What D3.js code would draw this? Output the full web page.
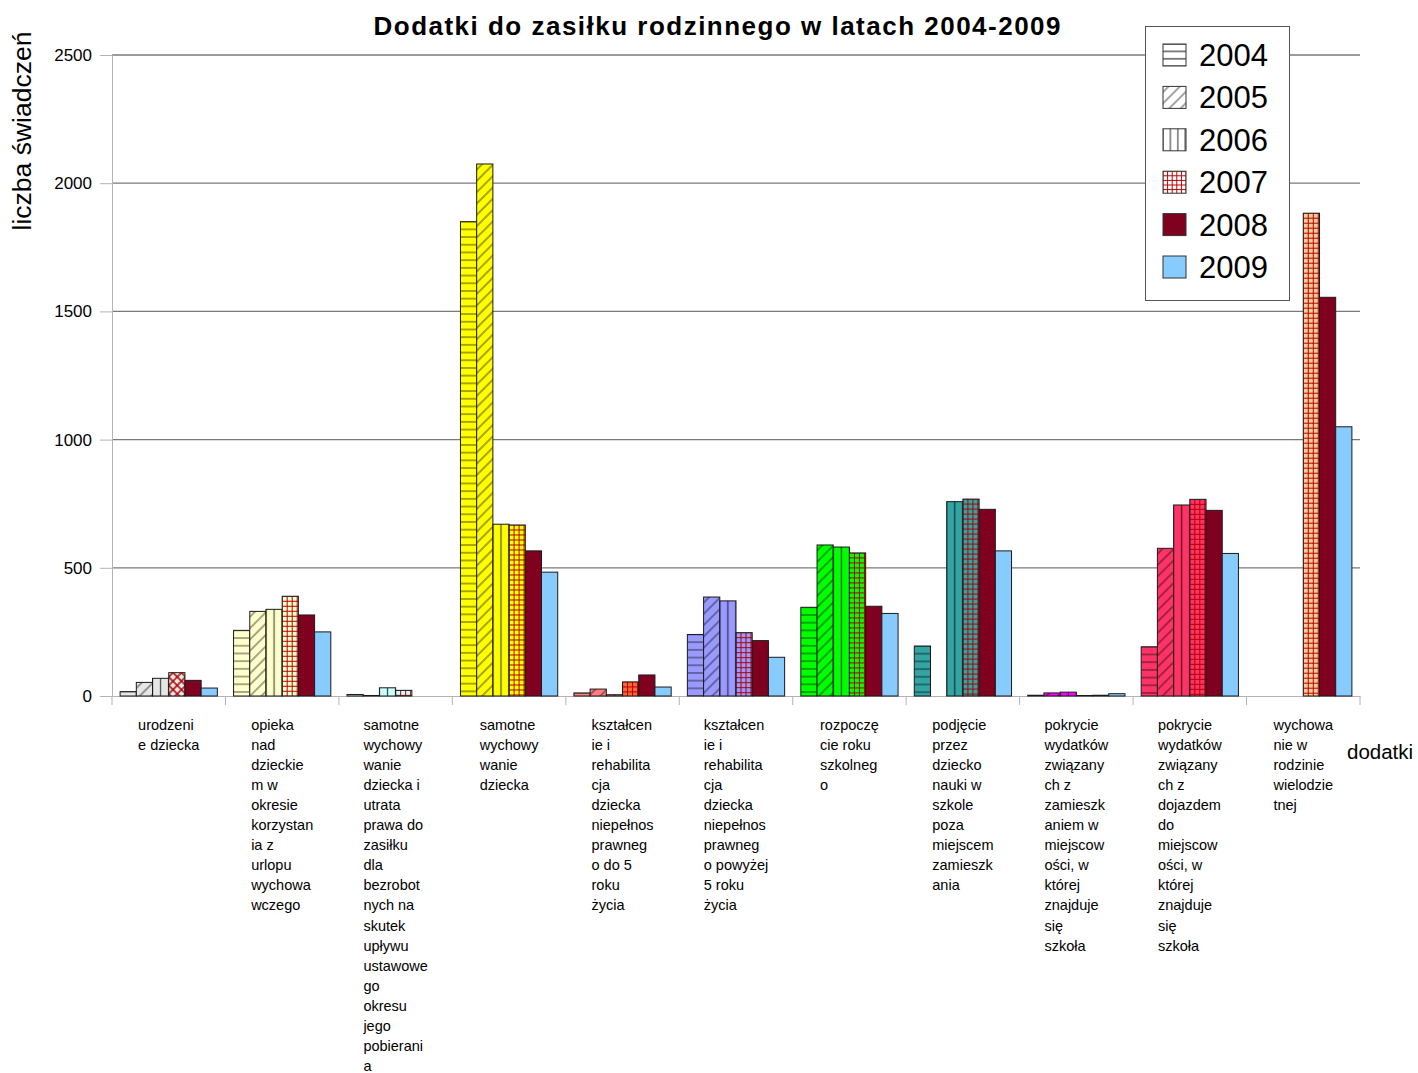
<!DOCTYPE html>
<html>
<head>
<meta charset="utf-8">
<script src="https://cdn.jsdelivr.net/npm/d3@7"></script>
<style>
  body { margin: 0; background: #fff; }
  text { font-family: "Liberation Sans", Arial, sans-serif; }
</style>
</head>
<body>
<script>
// categories, wrapped the same way as in the original chart
var categories = [
  ["urodzeni", "e dziecka"],
  ["opieka", "nad", "dzieckie", "m w", "okresie", "korzystan", "ia z", "urlopu", "wychowa", "wczego"],
  ["samotne", "wychowy", "wanie", "dziecka i", "utrata", "prawa do", "zasiłku", "dla", "bezrobot", "nych na", "skutek", "upływu", "ustawowe", "go", "okresu", "jego", "pobierani", "a"],
  ["samotne", "wychowy", "wanie", "dziecka"],
  ["kształcen", "ie i", "rehabilita", "cja", "dziecka", "niepełnos", "prawneg", "o do 5", "roku", "życia"],
  ["kształcen", "ie i", "rehabilita", "cja", "dziecka", "niepełnos", "prawneg", "o powyżej", "5 roku", "życia"],
  ["rozpoczę", "cie roku", "szkolneg", "o"],
  ["podjęcie", "przez", "dziecko", "nauki w", "szkole", "poza", "miejscem", "zamieszk", "ania"],
  ["pokrycie", "wydatków", "związany", "ch z", "zamieszk", "aniem w", "miejscow", "ości, w", "której", "znajduje", "się", "szkoła"],
  ["pokrycie", "wydatków", "związany", "ch z", "dojazdem", "do", "miejscow", "ości, w", "której", "znajduje", "się", "szkoła"],
  ["wychowa", "nie w", "rodzinie", "wielodzie", "tnej"]
];

var years = ["2004", "2005", "2006", "2007", "2008", "2009"];

var v2004 = [17, 256, 6, 1850, 12, 240, 346, 195, 3, 192, 0];
var v2005 = [53, 330, 2, 2075, 27, 386, 589, 0, 12, 576, 0];
var v2006 = [69, 338, 32, 670, 5, 371, 581, 758, 15, 745, 0];
var v2007 = [91, 389, 22, 667, 55, 247, 558, 768, 2, 767, 1883];
var v2008 = [61, 316, 0, 566, 82, 216, 350, 728, 3, 724, 1555];
var v2009 = [31, 250, 0, 483, 35, 151, 322, 566, 9, 556, 1050];
var series = [v2004, v2005, v2006, v2007, v2008, v2009];

var yTicks = [0, 500, 1000, 1500, 2000, 2500];

// colours
var catColors = ["#e6e6e6", "#ffffcc", "#ccffff", "#ffff00", "#ff8080", "#9999ff",
                 "#00ff00", "#33a3a3", "#ff00ff", "#ff3366", "#ffcc99"];
var color2007 = { 4: "#ff6633" };
var color2008 = "#800020";
var color2009 = "#88ccff";
var patternKinds = ["h", "d", "v", "g"];

var svgWidth = 1418, svgHeight = 1073;
var plot = { left: 112, right: 1360, top: 55, bottom: 696 };

var svg = d3.select("body").append("svg")
  .attr("width", svgWidth)
  .attr("height", svgHeight);

var defs = svg.append("defs");

var x0 = d3.scaleBand()
  .domain(d3.range(categories.length))
  .range([plot.left, plot.right])
  .padding(0);

var x1 = d3.scaleBand()
  .domain(years)
  .range([0, x0.bandwidth()])
  .paddingInner(0)
  .paddingOuter(0.5);

var y = d3.scaleLinear()
  .domain([0, 2500])
  .range([plot.bottom, plot.top]);

var bw = x1.bandwidth();

// hatch pattern, lines sit in the middle of each tile
function makePattern(id, kind, bg, px, py, tile, lineColor) {
  var p = defs.append("pattern")
    .attr("id", id)
    .attr("patternUnits", "userSpaceOnUse");
  var stroke = lineColor || "#000";
  var op = lineColor ? 1 : 0.7;
  if (kind == "h") {
    p.attr("x", px).attr("y", py - tile / 2).attr("width", 40).attr("height", tile);
    p.append("rect").attr("width", 40).attr("height", tile).attr("fill", bg);
    p.append("line").attr("x1", 0).attr("x2", 40).attr("y1", tile / 2).attr("y2", tile / 2)
      .attr("stroke", stroke).attr("stroke-opacity", op).attr("stroke-width", 1.2);
  } else if (kind == "v") {
    p.attr("x", px - tile / 2).attr("y", py).attr("width", tile).attr("height", 40);
    p.append("rect").attr("width", tile).attr("height", 40).attr("fill", bg);
    p.append("line").attr("x1", tile / 2).attr("x2", tile / 2).attr("y1", 0).attr("y2", 40)
      .attr("stroke", stroke).attr("stroke-opacity", op).attr("stroke-width", 1.2);
  } else if (kind == "d" || kind == "x") {
    p.attr("width", tile).attr("height", tile)
      .attr("patternTransform", "translate(" + px + "," + py + ") rotate(45)");
    p.append("rect").attr("x", -1).attr("y", -1).attr("width", tile + 2).attr("height", tile + 2).attr("fill", bg);
    p.append("line").attr("x1", tile / 2).attr("x2", tile / 2).attr("y1", 0).attr("y2", tile)
      .attr("stroke", stroke).attr("stroke-opacity", op).attr("stroke-width", kind == "x" ? 1.5 : 1);
    if (kind == "x") {
      p.append("line").attr("y1", tile / 2).attr("y2", tile / 2).attr("x1", 0).attr("x2", tile)
        .attr("stroke", stroke).attr("stroke-width", 1.5);
    }
  } else if (kind == "g") {
    p.attr("x", px - tile / 2).attr("y", py - tile / 2).attr("width", tile).attr("height", tile);
    p.append("rect").attr("width", tile).attr("height", tile).attr("fill", bg);
    p.append("line").attr("x1", tile / 2).attr("x2", tile / 2).attr("y1", 0).attr("y2", tile)
      .attr("stroke", stroke).attr("stroke-width", 1);
    p.append("line").attr("y1", tile / 2).attr("y2", tile / 2).attr("x1", 0).attr("x2", tile)
      .attr("stroke", stroke).attr("stroke-width", 1);
  }
}

// bar records
var bars = [];
categories.forEach(function(c, i) {
  years.forEach(function(yr, j) {
    bars.push({ cat: i, year: yr, yi: j, value: series[j][i] });
  });
});
bars = bars.filter(function(d) { return d.value > 0; });

bars.forEach(function(d) {
  d.x = x0(d.cat) + x1(d.year);
  d.top = y(d.value);
  if (d.yi == 4) { d.fill = color2008; return; }
  if (d.yi == 5) { d.fill = color2009; return; }
  var bg = catColors[d.cat];
  var kind = patternKinds[d.yi];
  var tile = 7.7, lc = null;
  if (d.yi == 3) {
    bg = color2007[d.cat] || bg;
    lc = "#b00000";
    tile = 5;
    if (d.cat == 0) { kind = "x"; tile = 6; }
  }
  if (kind == "v") tile = bw / 2;
  if (kind == "d") tile = 8;
  var id = "p" + d.cat + "_" + d.yi;
  makePattern(id, kind, bg, d.x, d.top, tile, lc);
  d.fill = "url(#" + id + ")";
});

// gridlines
svg.append("g").selectAll("line")
  .data(yTicks.filter(function(t) { return t > 0; }))
  .enter().append("line")
  .attr("x1", plot.left).attr("x2", plot.right)
  .attr("y1", function(d) { return y(d); })
  .attr("y2", function(d) { return y(d); })
  .attr("stroke", "#7a7a7a")
  .attr("stroke-width", 1.3);

// y axis
var yAxis = d3.axisLeft(y).tickValues(yTicks).tickFormat(d3.format("d")).tickSize(12).tickPadding(8);
var gy = svg.append("g")
  .attr("transform", "translate(" + plot.left + ",0)")
  .call(yAxis);
gy.select(".domain").attr("stroke", "#b3b3b3");
gy.selectAll(".tick line").attr("stroke", "#b3b3b3");
gy.selectAll(".tick text")
  .attr("font-family", "Liberation Sans, Arial, sans-serif")
  .attr("font-size", "17px")
  .attr("fill", "#000");

// x axis
var gx = svg.append("g")
  .attr("transform", "translate(0," + plot.bottom + ")")
  .call(d3.axisBottom(x0).tickSize(0).tickFormat(""));
gx.select(".domain").attr("stroke", "#b3b3b3");
gx.selectAll(".tick").remove();
var bounds = x0.domain().map(function(c) { return x0(c); }).concat([x0.range()[1]]);
gx.selectAll(".bound")
  .data(bounds)
  .enter().append("line")
  .attr("class", "bound")
  .attr("x1", function(d) { return d; })
  .attr("x2", function(d) { return d; })
  .attr("y1", 0).attr("y2", 9)
  .attr("stroke", "#b3b3b3");

// bars
svg.append("g").selectAll("rect")
  .data(bars)
  .enter().append("rect")
  .attr("x", function(d) { return d.x; })
  .attr("y", function(d) { return d.top; })
  .attr("width", bw)
  .attr("height", function(d) { return y(0) - d.top; })
  .attr("fill", function(d) { return d.fill; })
  .attr("stroke", "#1a1a1a")
  .attr("stroke-width", 1);

// category labels: left aligned lines, block centred on the category
var labels = svg.append("g");
categories.forEach(function(lines, i) {
  var t = labels.append("text")
    .attr("font-size", "14.5px")
    .attr("fill", "#000");
  lines.forEach(function(l, k) {
    t.append("tspan").attr("y", 730 + k * 20.05).text(l);
  });
  var maxW = 0;
  t.selectAll("tspan").each(function() {
    maxW = Math.max(maxW, this.getComputedTextLength());
  });
  var left = x0(i) + x0.bandwidth() / 2 - maxW / 2;
  t.selectAll("tspan").attr("x", left);
});

// titles
svg.append("text")
  .attr("x", 717).attr("y", 35)
  .attr("text-anchor", "middle")
  .attr("font-size", "26px")
  .attr("font-weight", "bold")
  .attr("textLength", 687)
  .attr("lengthAdjust", "spacing")
  .text("Dodatki do zasiłku rodzinnego w latach 2004-2009");

svg.append("text")
  .attr("transform", "translate(31,131) rotate(-90)")
  .attr("text-anchor", "middle")
  .attr("font-size", "26.5px")
  .text("liczba świadczeń");

svg.append("text")
  .attr("x", 1347).attr("y", 759)
  .attr("font-size", "20.5px")
  .text("dodatki");

// legend
var legend = svg.append("g");
legend.append("rect")
  .attr("x", 1145.5).attr("y", 26.5)
  .attr("width", 144).attr("height", 274)
  .attr("fill", "#fff")
  .attr("stroke", "#555");

years.forEach(function(yr, j) {
  var cy = 55 + j * 42.4;
  var sx = 1163, sy = cy - 11, fill;
  if (j == 4) fill = color2008;
  else if (j == 5) fill = color2009;
  else {
    var kind = patternKinds[j], tile = 7.4, lc = null;
    if (j == 3) { lc = "#b00000"; tile = 4.6; }
    if (j == 1) tile = 8;
    makePattern("lg" + j, kind, "#fff", sx, sy, tile, lc);
    fill = "url(#lg" + j + ")";
  }
  legend.append("rect")
    .attr("x", sx).attr("y", sy)
    .attr("width", 23).attr("height", 22)
    .attr("fill", fill)
    .attr("stroke", "#333");
  legend.append("text")
    .attr("x", 1199).attr("y", cy + 11)
    .attr("font-size", "31px")
    .text(yr);
});
</script>
</body>
</html>
